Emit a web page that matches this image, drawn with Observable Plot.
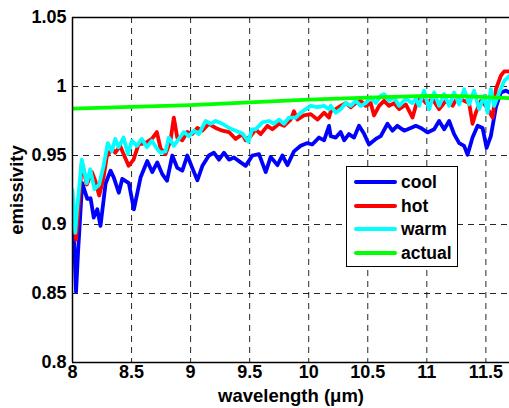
<!DOCTYPE html>
<html><head><meta charset="utf-8">
<script src="https://cdn.jsdelivr.net/npm/d3@7"></script>
<script src="https://cdn.jsdelivr.net/npm/@observablehq/plot@0.6"></script>
<style>
html,body{margin:0;padding:0;background:#fff;}
#wrap{position:relative;width:509px;height:408px;overflow:hidden;font-family:"Liberation Sans",Arial,sans-serif;}
#legend{position:absolute;left:346px;top:166px;width:110px;height:99px;border:1px solid #000;background:#fff;}
.entry{position:absolute;left:0;height:24px;width:110px;}
.swatch{position:absolute;left:7px;width:43px;height:4px;border-radius:2px;}
.lab{position:absolute;left:54px;font-size:17.5px;font-weight:bold;color:#000;line-height:20px;}
</style></head>
<body><div id="wrap"></div>
<script>
// ---- data ----
const coolX = [8.0,8.017,8.03,8.047,8.082,8.125,8.153,8.18,8.21,8.237,8.28,8.322,8.35,8.392,8.421,8.477,8.52,8.576,8.633,8.675,8.718,8.76,8.80,8.845,8.887,8.93,8.972,9.014,9.057,9.10,9.155,9.197,9.24,9.282,9.325,9.367,9.424,9.466,9.523,9.579,9.636,9.678,9.735,9.777,9.82,9.875,9.932,9.989,10.03,10.087,10.13,10.172,10.186,10.229,10.27,10.30,10.34,10.384,10.426,10.47,10.51,10.568,10.61,10.667,10.709,10.75,10.808,10.864,10.907,10.949,11.006,11.062,11.104,11.147,11.189,11.231,11.274,11.316,11.345,11.387,11.43,11.472,11.506,11.542,11.585,11.627,11.67,11.703];
const coolY = [0.91,0.88,0.851,0.88,0.930,0.9186,0.919,0.905,0.911,0.899,0.9295,0.939,0.934,0.923,0.933,0.930,0.911,0.934,0.946,0.938,0.945,0.9365,0.9317,0.950,0.941,0.939,0.950,0.941,0.932,0.9425,0.950,0.952,0.947,0.952,0.947,0.9486,0.945,0.9425,0.950,0.951,0.938,0.949,0.943,0.950,0.943,0.953,0.957,0.959,0.958,0.963,0.961,0.9715,0.964,0.963,0.967,0.961,0.9655,0.963,0.9715,0.9655,0.958,0.962,0.964,0.973,0.968,0.9715,0.968,0.970,0.9715,0.970,0.9667,0.969,0.975,0.969,0.975,0.9655,0.959,0.957,0.9505,0.963,0.9715,0.970,0.9555,0.964,0.985,0.9957,0.997,0.9955];

const hotX = [8.0,8.03,8.05,8.079,8.121,8.164,8.192,8.226,8.263,8.29,8.333,8.362,8.404,8.432,8.475,8.517,8.559,8.616,8.672,8.714,8.746,8.788,8.83,8.858,8.887,8.93,8.972,9.014,9.057,9.099,9.155,9.212,9.269,9.325,9.381,9.438,9.466,9.508,9.551,9.593,9.65,9.692,9.748,9.791,9.847,9.875,9.904,9.96,10.017,10.074,10.13,10.172,10.186,10.229,10.271,10.314,10.356,10.398,10.44,10.483,10.525,10.553,10.596,10.638,10.68,10.723,10.765,10.822,10.879,10.907,10.949,10.992,11.048,11.104,11.161,11.218,11.26,11.316,11.358,11.387,11.415,11.458,11.5,11.557,11.585,11.627,11.655,11.703];
const hotY = [0.91,0.889,0.91,0.945,0.929,0.938,0.932,0.921,0.934,0.949,0.955,0.952,0.957,0.951,0.9425,0.947,0.958,0.959,0.962,0.967,0.955,0.951,0.961,0.9775,0.963,0.961,0.967,0.9655,0.970,0.968,0.973,0.970,0.968,0.967,0.962,0.9655,0.961,0.964,0.969,0.9655,0.9715,0.969,0.973,0.9715,0.976,0.982,0.976,0.979,0.980,0.976,0.981,0.9775,0.982,0.9836,0.986,0.988,0.985,0.988,0.9896,0.986,0.988,0.979,0.986,0.9896,0.986,0.988,0.9836,0.987,0.9775,0.986,0.992,0.988,0.991,0.9836,0.9896,0.986,0.992,0.9896,0.988,0.973,0.981,0.9896,0.986,0.9775,0.998,1.0078,1.011,1.011];

const warmX = [8.0,8.023,8.038,8.079,8.121,8.15,8.186,8.226,8.263,8.299,8.333,8.362,8.39,8.432,8.469,8.503,8.545,8.587,8.63,8.672,8.714,8.746,8.788,8.816,8.858,8.9,8.943,8.986,9.028,9.07,9.127,9.169,9.212,9.269,9.325,9.381,9.438,9.49,9.52,9.551,9.608,9.664,9.706,9.748,9.791,9.833,9.89,9.932,9.975,10.017,10.074,10.13,10.172,10.186,10.229,10.271,10.314,10.356,10.398,10.44,10.483,10.525,10.568,10.61,10.638,10.68,10.723,10.765,10.822,10.879,10.907,10.935,10.977,11.02,11.062,11.104,11.147,11.189,11.231,11.274,11.316,11.358,11.4,11.443,11.486,11.514,11.542,11.57,11.613,11.655,11.703];
const warmY = [0.925,0.894,0.91,0.947,0.930,0.940,0.9256,0.929,0.9425,0.959,0.953,0.962,0.956,0.963,0.951,0.9607,0.957,0.962,0.956,0.9607,0.955,0.952,0.953,0.963,0.957,0.962,0.967,0.964,0.968,0.9655,0.975,0.973,0.975,0.973,0.970,0.968,0.966,0.960,0.969,0.969,0.974,0.975,0.973,0.976,0.973,0.9775,0.9775,0.981,0.9836,0.986,0.985,0.986,0.9836,0.986,0.981,0.9836,0.988,0.986,0.9896,0.986,0.988,0.992,0.988,0.9933,0.9945,0.9896,0.992,0.986,0.991,0.988,0.991,0.986,0.997,0.9836,0.9957,0.986,0.9945,0.986,0.9957,0.987,0.998,0.987,0.997,0.9836,0.9933,0.981,0.998,0.986,0.9957,1.004,1.0078];

const actualX = [8.0,8.5,9.0,9.5,10.0,10.5,11.0,11.3,11.703];
const actualY = [0.984,0.9852,0.9865,0.9885,0.9905,0.992,0.9932,0.993,0.9915];

const seriesNames = ["cool","hot","warm","actual"];
const seriesColors = ["#0000ff","#ff0000","#00ffff","#00ff00"];

const xTicks = [8,8.5,9,9.5,10,10.5,11,11.5];
const xTickLabels = ["8","8.5","9","9.5","10","10.5","11","11.5"];
const yTicks = [0.8,0.85,0.9,0.95,1,1.05];
const yTickLabels = ["0.8","0.85","0.9","0.95","1","1.05"];

// ---- build ----
const xs = [coolX, hotX, warmX, actualX];
const ys = [coolY, hotY, warmY, actualY];
const rows = [];
seriesNames.forEach((s,i)=>xs[i].forEach((x,j)=>rows.push({series:s, x, y: ys[i][j]})));

const lineMarks = seriesNames.map((s,i)=>Plot.line(rows.filter(r=>r.series===s),
  {x:"x", y:"y", stroke: seriesColors[i], strokeWidth: 3.8, strokeLinejoin:"round", strokeLinecap:"round", clip:true}));

const gridStyle = {stroke:"#000", strokeOpacity:0.85, strokeWidth:1, strokeDasharray:"6,5"};

const chart = Plot.plot({
  width: 509, height: 408,
  marginLeft: 72, marginRight: 0, marginTop: 17, marginBottom: 46,
  style: {fontFamily: "'Liberation Sans', Arial, sans-serif", fontSize: "18px", fontWeight: "bold", color: "#000", background: "#fff"},
  x: {domain: [8, 11.7]},
  y: {domain: [0.8, 1.05]},
  marks: [
    Plot.gridX(xTicks, gridStyle),
    Plot.gridY(yTicks, gridStyle),
    ...lineMarks,
    Plot.ruleX([8], {stroke:"#000", strokeWidth:1.5}),
    Plot.ruleY([0.8, 1.05], {stroke:"#000", strokeWidth:1.5}),
    Plot.axisX({ticks: xTicks, tickSize: 0, tickPadding: 3, tickFormat: d => xTickLabels[xTicks.indexOf(d)],
      label: null, fontSize: 18, fontWeight: "bold"}),
    Plot.axisX({ticks: [], label: "wavelength (μm)", labelAnchor: "center", labelArrow: "none", labelOffset: 39.5, fontSize: 18.5, fontWeight: "bold"}),
    Plot.axisY({ticks: yTicks, tickSize: 0, tickPadding: 6, tickFormat: d => yTickLabels[yTicks.indexOf(d)],
      label: null, fontSize: 18, fontWeight: "bold"}),
    Plot.axisY({ticks: [], label: "emissivity", labelAnchor: "center", labelArrow: "none", labelOffset: 63, fontSize: 18.5, fontWeight: "bold"})
  ]
});
const wrap = document.getElementById("wrap");
wrap.appendChild(chart);

// legend
const leg = document.createElement("div");
leg.id = "legend";
seriesNames.forEach((s,i)=>{
  const e = document.createElement("div");
  e.className = "entry";
  e.style.top = (4 + i*23.7) + "px";
  const sw = document.createElement("div");
  sw.className = "swatch"; sw.style.background = seriesColors[i]; sw.style.top = "9px";
  const lb = document.createElement("div");
  lb.className = "lab"; lb.textContent = s; lb.style.top = "1px";
  e.appendChild(sw); e.appendChild(lb); leg.appendChild(e);
});
wrap.appendChild(leg);
</script></body></html>
